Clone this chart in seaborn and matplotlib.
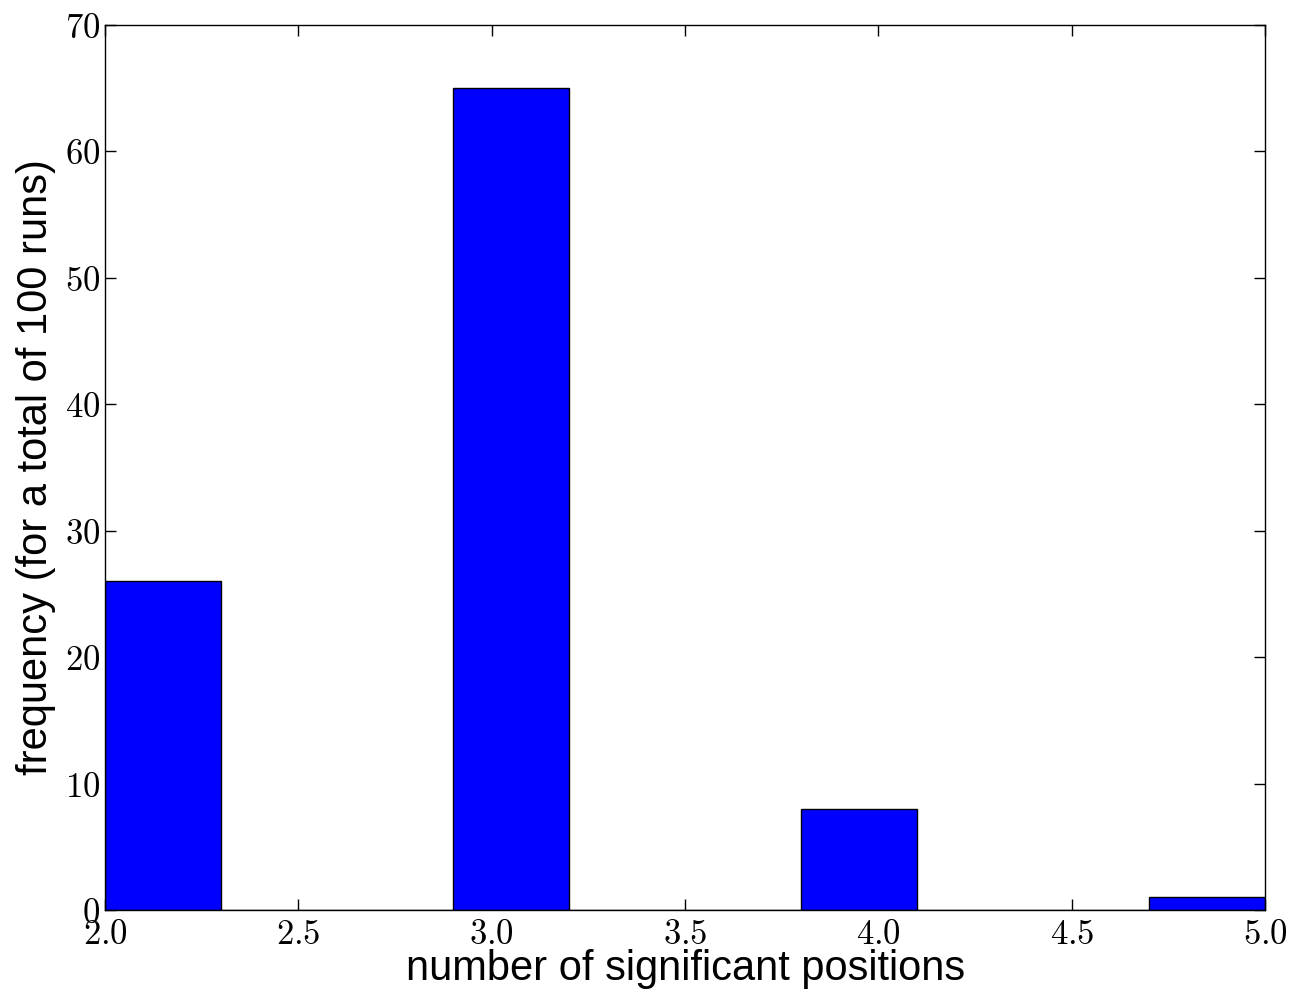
import numpy as np
import pandas as pd
import seaborn as sns
import matplotlib
matplotlib.use("Agg")
import matplotlib.pyplot as plt
from matplotlib.ticker import FuncFormatter, MultipleLocator

# number of significant positions found per run, and how many runs gave it
positions = [2, 3, 4, 5]
runs = [26, 65, 8, 1]

df = pd.DataFrame({"positions": positions, "runs": runs})

sns.set_style("ticks")
plt.rcParams["font.family"] = ["Liberation Sans", "DejaVu Sans"]
plt.rcParams["mathtext.fontset"] = "cm"
for k in ["text.color", "axes.labelcolor", "xtick.color", "ytick.color", "axes.edgecolor"]:
    plt.rcParams[k] = "black"

fig = plt.figure(figsize=(12.89, 9.97), dpi=100)
ax = fig.add_axes([0.0815, 0.0873, 0.9, 0.8876])

sns.histplot(data=df, x="positions", weights="runs", bins=10, binrange=(2, 5),
             color="#0000ff", edgecolor="black", linewidth=1.0, alpha=1.0, ax=ax)

ax.set_xlim(2, 5)
ax.set_ylim(0, 70)
ax.xaxis.set_major_locator(MultipleLocator(0.5))
ax.yaxis.set_major_locator(MultipleLocator(10))
ax.xaxis.set_major_formatter(FuncFormatter(lambda v, p: f"${v:.1f}$"))
ax.yaxis.set_major_formatter(FuncFormatter(lambda v, p: f"${v:.0f}$"))
ax.tick_params(direction="in", length=8, width=1, top=True, right=True, labelsize=25)
ax.tick_params(axis="x", pad=6)
for s in ax.spines.values():
    s.set_visible(True)
    s.set_linewidth(1)

ax.set_xlabel("number of significant positions", fontsize=30, labelpad=-2)
ax.set_ylabel("frequency (for a total of 100 runs)", fontsize=30, labelpad=6)

fig.savefig("out.png", dpi=100)
